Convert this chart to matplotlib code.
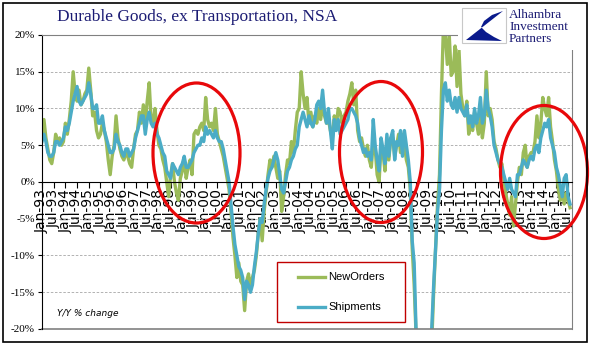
import matplotlib
matplotlib.use("Agg")
import matplotlib.pyplot as plt
import numpy as np
from matplotlib.patches import Rectangle, Ellipse, Polygon
from matplotlib.lines import Line2D

# Y/Y % change, monthly, Jan-93 .. Aug-15
new_orders = [
    6.0, 8.5, 6.0, 4.5, 3.0, 2.5, 4.0, 6.5, 5.5, 6.0, 5.0, 5.5,            # 1993
    8.0, 6.5, 8.5, 11.0, 15.0, 12.0, 11.0, 12.5, 10.5, 11.0, 12.0, 12.5,   # 1994
    15.5, 12.5, 9.0, 9.5, 7.0, 6.0, 6.5, 8.0, 7.0, 5.5, 3.0, 1.0,          # 1995
    3.5, 5.0, 9.0, 6.0, 4.5, 3.5, 3.0, 4.0, 3.5, 2.5, 2.0, 4.5,            # 1996
    6.5, 7.0, 9.5, 8.0, 10.5, 8.0, 11.0, 13.5, 8.5, 8.0, 10.0, 7.0,        # 1997
    5.0, 4.5, 3.0, 2.0, 0.0, -2.0, 1.0, 2.5, 0.0, -1.5, -2.5, 0.5,         # 1998
    1.5, 3.0, 0.5, 2.0, 3.0, 1.0, 6.5, 7.0, 6.5, 7.5, 8.0, 7.0,            # 1999
    11.5, 8.5, 7.5, 8.0, 7.0, 10.0, 6.5, 5.5, 4.5, 3.5, 2.0, 0.5,          # 2000
    -1.0, -4.0, -7.5, -10.0, -13.0, -11.0, -13.5, -14.0, -17.5, -13.5, -12.5, -14.5,  # 2001
    -13.0, -12.0, -10.0, -7.0, -5.0, -8.0, -4.0, -1.5, 1.0, 3.0, 2.0, 3.5,  # 2002
    2.0, 0.5, 1.5, -4.0, -2.0, 1.0, 3.0, 2.5, 5.5, 4.0, 7.0, 9.5,          # 2003
    10.0, 15.0, 12.0, 10.0, 11.5, 8.0, 9.5, 7.5, 9.0, 8.0, 10.0, 8.5,      # 2004
    10.5, 9.0, 8.0, 8.5, 7.0, 6.0, 9.0, 7.5, 10.0, 9.5, 8.0, 9.0,          # 2005
    9.5, 11.0, 12.0, 13.5, 10.5, 12.5, 7.0, 5.5, 6.0, 4.5, 3.5, 5.0,       # 2006
    3.0, 2.0, 5.5, 4.5, 1.0, 0.0, 5.0, 4.0, 1.5, 5.5, 3.0, 6.0,            # 2007
    6.0, 3.5, 5.0, 6.5, 4.0, 6.5, 5.0, 3.0, 2.0, -1.0, -9.0, -14.0,        # 2008
    -21.0, -25.0, -28.0, -30.0, -30.0, -29.0, -27.0, -24.0, -22.0, -15.0, -9.0, -3.0,  # 2009
    1.0, 12.0, 21.0, 20.0, 16.0, 20.0, 14.5, 15.0, 18.5, 13.0, 18.0, 12.0,  # 2010
    10.0, 9.0, 11.0, 6.5, 8.5, 7.0, 9.5, 8.0, 6.5, 9.0, 6.0, 8.0,          # 2011
    15.0, 9.0, 10.0, 8.5, 5.5, 4.5, 3.0, 2.0, 2.5, 0.5, -1.5, -3.0,        # 2012
    -4.5, -2.0, -6.0, -3.0, 0.0, 2.0, 1.0, 4.0, 5.0, 2.0, 3.5, 4.0,        # 2013
    4.0, 5.5, 9.0, 6.0, 8.0, 11.5, 10.0, 9.0, 11.5, 7.5, 5.5, 3.0,         # 2014
    1.5, -1.0, -2.5, -1.0, -3.0, -1.5, -2.5, -3.5,                         # 2015
]
shipments = [
    5.5, 6.5, 5.5, 4.0, 3.5, 3.5, 4.0, 5.5, 5.5, 5.0, 5.5, 6.0,
    7.5, 7.0, 8.0, 9.5, 11.0, 12.0, 13.0, 11.0, 10.5, 11.0, 11.5, 12.0,
    13.5, 12.0, 10.0, 10.0, 10.5, 8.0, 8.0, 9.0, 7.0, 6.0, 5.0, 4.0,
    4.0, 4.5, 6.5, 5.5, 5.0, 4.0, 3.5, 4.5, 4.5, 3.5, 4.0, 4.5,
    6.0, 7.0, 8.0, 9.0, 9.0, 6.5, 8.5, 9.5, 8.0, 7.5, 8.0, 6.5,
    6.0, 5.0, 4.0, 3.5, 1.5, 1.0, 0.5, 2.5, 2.0, 1.5, 1.0, 2.0,
    2.5, 3.5, 2.0, 2.0, 2.5, 3.0, 4.0, 4.5, 5.0, 5.0, 6.0, 5.5,
    7.5, 6.5, 7.0, 6.5, 6.0, 7.0, 6.0, 5.5, 5.5, 4.5, 3.0, 1.5,
    0.0, -3.0, -6.0, -8.5, -10.0, -11.5, -12.0, -13.0, -16.0, -13.5, -14.0, -15.0,
    -14.0, -11.5, -9.5, -7.0, -5.0, -5.5, -3.0, -1.0, 0.5, 1.5, 2.0, 3.0,
    4.0, 3.0, 1.0, -1.0, -1.5, 0.0, 1.5, 2.0, 3.0, 3.5, 4.5, 5.0,
    7.5, 8.5, 9.5, 8.5, 7.5, 9.0, 8.0, 7.5, 8.5, 10.5, 11.0, 10.0,
    12.5, 9.5, 8.0, 10.0, 7.0, 4.5, 8.5, 7.0, 8.5, 6.5, 7.0, 7.5,
    8.0, 8.5, 10.0, 10.0, 9.5, 9.0, 8.0, 6.0, 5.0, 4.0, 4.5, 3.5,
    4.0, 3.0, 8.5, 5.0, 3.0, 1.5, 6.0, 4.5, 2.5, 6.5, 3.5, 6.0,
    7.0, 3.0, 5.5, 5.0, 7.0, 3.5, 7.0, 5.0, 3.0, 0.0, -8.0, -11.0,
    -20.5, -24.0, -27.0, -29.0, -29.0, -28.0, -26.0, -23.0, -20.0, -14.0, -9.0, -4.0,
    -1.0, 7.0, 12.5, 13.5, 11.0, 12.5, 10.5, 10.0, 11.5, 9.5, 11.5, 10.0,
    9.5, 9.0, 10.5, 8.0, 9.0, 7.5, 10.0, 8.0, 9.0, 11.5, 8.0, 9.0,
    12.5, 10.0, 9.0, 7.5, 5.0, 4.0, 3.0, 2.5, 2.0, 1.0, 0.0, -1.0,
    0.5, -1.0, -1.5, -2.0, 1.0, 1.0, 2.0, 3.0, 2.5, 2.0, 3.0, 3.5,
    3.0, 4.5, 5.0, 4.0, 6.0, 7.0, 8.0, 7.5, 8.5, 6.0, 5.0, 4.0,
    2.0, 1.0, -0.5, -2.0, 0.5, 1.0, -2.0, -3.0,
]
years = list(range(1993, 2016))
tick_labels = []
for y in years:
    tick_labels += ["Jan-%02d" % (y % 100), "Jul-%02d" % (y % 100)]
y_ticks = [20, 15, 10, 5, 0, -5, -10, -15, -20]

W, H = 596, 358
def fx(x):
    return x / W
def fy(y):
    return 1 - y / H

green = "#9bbb59"
blue = "#4bacc6"
navy = "#1c1c74"

fig = plt.figure(figsize=(W / 100, H / 100), dpi=100)
ax = fig.add_axes([fx(42), fy(329), fx(572) - fx(42), fy(35) - fy(329)])

m = np.arange(len(new_orders))
ax.plot(m, new_orders, color=green, lw=2.4, solid_joinstyle="round")
ax.plot(np.arange(len(shipments)), shipments, color=blue, lw=2.4, solid_joinstyle="round")

ax.set_xlim(0, 272)
ax.set_ylim(-20, 20)

ax.set_yticks(y_ticks)
ax.set_yticklabels(["%d%%" % v for v in y_ticks], family="Liberation Serif", fontsize=8)
ax.tick_params(axis="y", length=3, width=0.8, pad=2)
ax.yaxis.grid(True, color="#a6a6a6", linestyle=(0, (3, 2)), lw=0.6)
ax.set_axisbelow(True)

xt = np.arange(0, 272, 6)
ax.set_xticks(xt)
ax.set_xticklabels(tick_labels[:len(xt)], family="Liberation Serif", fontsize=6.6)
ax.tick_params(axis="x", length=4, width=0.8, pad=1, labelrotation=90)
ax.spines["bottom"].set_position(("data", 0))
ax.spines["bottom"].set_color("black")
ax.spines["left"].set_color("black")
for s in ("top", "right"):
    ax.spines[s].set_color("#808080")
ax.axhline(-20, color="#808080", lw=1.2, clip_on=False)

# legend box
fig.add_artist(Rectangle((fx(277), fy(322)), fx(405) - fx(277), fy(262) - fy(322),
                         transform=fig.transFigure, fill=True, facecolor="white",
                         edgecolor="#c00000", lw=1.0))
for yy, col, lab in [(277, green, "NewOrders"), (307, blue, "Shipments")]:
    fig.add_artist(Line2D([fx(298), fx(325)], [fy(yy), fy(yy)], color=col, lw=2.4,
                          transform=fig.transFigure))
    fig.text(fx(328), fy(yy), lab, family="Liberation Sans", fontsize=8, va="center")

fig.text(fx(57), fy(314), "Y/Y % change", style="italic", fontsize=6.5, va="center",
         family="DejaVu Sans")

# title
fig.text(fx(57), fy(17), "Durable Goods, ex Transportation, NSA", family="Liberation Serif",
         fontsize=12.5, color=navy, va="center")

# red circles
for cx, cy, w, h in [(196.5, 153, 87, 140), (381, 152, 83, 141), (544, 172, 87, 133)]:
    fig.add_artist(Ellipse((fx(cx), fy(cy)), w / W, h / H, transform=fig.transFigure,
                           fill=False, edgecolor="#e8080a", lw=2.3))

# outer frame
fig.add_artist(Rectangle((fx(3), fy(342)), fx(587) - fx(3), fy(3) - fy(342),
                         transform=fig.transFigure, fill=False, edgecolor="black", lw=1.2))

# logo
fig.add_artist(Rectangle((fx(458), fy(50)), fx(586) - fx(458), fy(4) - fy(50),
                         transform=fig.transFigure, facecolor="white", edgecolor="none"))
fig.add_artist(Rectangle((fx(462), fy(43)), fx(506) - fx(462), fy(8) - fy(43),
                         transform=fig.transFigure, facecolor="white", edgecolor="#c8c8c8", lw=0.8))
swoosh = [(503, 11), (466, 40), (502, 41), (494, 37), (486, 32), (481, 27), (484, 21), (492, 15)]
fig.add_artist(Polygon([(fx(a), fy(b)) for a, b in swoosh], closed=True,
                       transform=fig.transFigure, facecolor="#0a1a8c", edgecolor="none"))
for i, word in enumerate(["Alhambra", "Investment", "Partners"]):
    fig.text(fx(509), fy(15 + 12 * i), word, family="Liberation Serif", fontsize=9.5,
             color=navy, va="center")

fig.savefig("out.png", dpi=100)
